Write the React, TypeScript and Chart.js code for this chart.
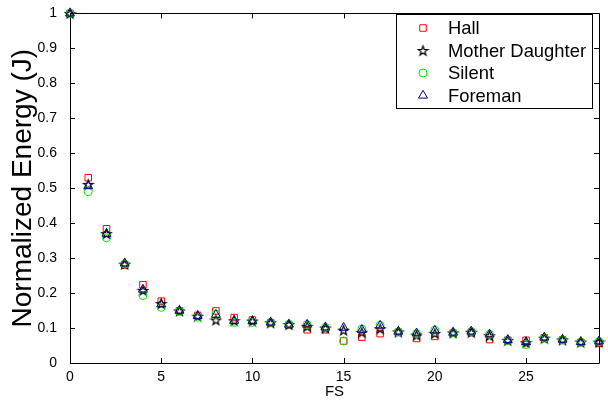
import { useEffect, useRef } from 'react';
import { Chart, registerables } from 'chart.js';

Chart.register(...registerables);

const fsValues = [0, 1, 2, 3, 4, 5, 6, 7, 8, 9, 10, 11, 12, 13, 14, 15, 16, 17, 18, 19, 20, 21, 22, 23, 24, 25, 26, 27, 28, 29];

const hallValues = [1, 0.53, 0.384, 0.28, 0.224, 0.177, 0.149, 0.136, 0.149, 0.13, 0.123, 0.115, 0.108, 0.095, 0.095, 0.063, 0.074, 0.084, 0.088, 0.07, 0.076, 0.085, 0.087, 0.067, 0.065, 0.065, 0.072, 0.066, 0.059, 0.056];
const motherDaughterValues = [1, 0.511, 0.37, 0.283, 0.208, 0.17, 0.149, 0.134, 0.123, 0.121, 0.12, 0.115, 0.11, 0.105, 0.1, 0.094, 0.088, 0.098, 0.089, 0.08, 0.085, 0.086, 0.088, 0.078, 0.065, 0.058, 0.071, 0.066, 0.06, 0.06];
const silentValues = [1, 0.49, 0.358, 0.283, 0.193, 0.159, 0.147, 0.131, 0.14, 0.116, 0.116, 0.116, 0.111, 0.11, 0.102, 0.063, 0.097, 0.108, 0.089, 0.084, 0.094, 0.087, 0.09, 0.082, 0.064, 0.053, 0.071, 0.066, 0.059, 0.061];
const foremanValues = [1, 0.506, 0.37, 0.285, 0.21, 0.168, 0.15, 0.135, 0.138, 0.121, 0.12, 0.116, 0.11, 0.11, 0.102, 0.101, 0.095, 0.107, 0.09, 0.085, 0.093, 0.087, 0.09, 0.082, 0.066, 0.06, 0.073, 0.067, 0.06, 0.062];

const seriesNames = ['Hall', 'Mother Daughter', 'Silent', 'Foreman'];
const seriesColors = ['#ff0000', '#000000', '#00ee00', '#000080'];

const xTicks = [0, 5, 10, 15, 20, 25];
const yTicks = [0, 0.1, 0.2, 0.3, 0.4, 0.5, 0.6, 0.7, 0.8, 0.9, 1];

const FONT = "'Liberation Sans', Arial, Helvetica, sans-serif";

function makePentagram(color: string): HTMLCanvasElement {
  const c = document.createElement('canvas');
  c.width = 13;
  c.height = 13;
  const ctx = c.getContext('2d')!;
  ctx.strokeStyle = color;
  ctx.lineWidth = 1.2;
  ctx.lineJoin = 'miter';
  ctx.beginPath();
  for (let i = 0; i < 10; i++) {
    const r = i % 2 === 0 ? 5 : 2;
    const a = -Math.PI / 2 + (i * Math.PI) / 5;
    const px = 6.5 + r * Math.cos(a);
    const py = 7 + r * Math.sin(a);
    if (i === 0) ctx.moveTo(px, py);
    else ctx.lineTo(px, py);
  }
  ctx.closePath();
  ctx.stroke();
  return c;
}

function drawMarker(ctx: CanvasRenderingContext2D, style: any, radius: number, x: number, y: number, color: string) {
  ctx.save();
  ctx.strokeStyle = color;
  ctx.lineWidth = 1;
  ctx.beginPath();
  if (style === 'rect') {
    const s = radius / Math.SQRT2;
    ctx.rect(x - s, y - s, 2 * s, 2 * s);
    ctx.stroke();
  } else if (style === 'circle') {
    ctx.arc(x, y, radius, 0, Math.PI * 2);
    ctx.stroke();
  } else if (style === 'triangle') {
    let rad = 0;
    ctx.moveTo(x + Math.sin(rad) * radius, y - Math.cos(rad) * radius);
    rad += (2 * Math.PI) / 3;
    ctx.lineTo(x + Math.sin(rad) * radius, y - Math.cos(rad) * radius);
    rad += (2 * Math.PI) / 3;
    ctx.lineTo(x + Math.sin(rad) * radius, y - Math.cos(rad) * radius);
    ctx.closePath();
    ctx.stroke();
  } else if (style instanceof HTMLCanvasElement) {
    ctx.drawImage(style, x - style.width / 2, y - style.height / 2);
  }
  ctx.restore();
}

const framePlugin = {
  id: 'matlabFrame',
  beforeDatasetsDraw(chart: any) {
    const { ctx, chartArea } = chart;
    const xs = chart.scales.x;
    const ys = chart.scales.y;
    const { left, right, top, bottom } = chartArea;
    ctx.save();
    ctx.strokeStyle = '#000';
    ctx.lineWidth = 1;
    ctx.beginPath();
    ctx.rect(Math.round(left) + 0.5, Math.round(top) + 0.5, Math.round(right - left), Math.round(bottom - top));
    ctx.stroke();
    const tl = 5;
    ctx.beginPath();
    xTicks.forEach((v) => {
      const px = Math.round(xs.getPixelForValue(v)) + 0.5;
      ctx.moveTo(px, bottom);
      ctx.lineTo(px, bottom - tl);
      ctx.moveTo(px, top);
      ctx.lineTo(px, top + tl);
    });
    yTicks.forEach((v) => {
      const py = Math.round(ys.getPixelForValue(v)) + 0.5;
      ctx.moveTo(left, py);
      ctx.lineTo(left + tl, py);
      ctx.moveTo(right, py);
      ctx.lineTo(right - tl, py);
    });
    ctx.stroke();
    ctx.restore();
  },
  afterDraw(chart: any) {
    const { ctx } = chart;
    const boxL = 396;
    const boxT = 14;
    const boxR = 592;
    const boxB = 108;
    ctx.save();
    ctx.fillStyle = '#fff';
    ctx.fillRect(boxL, boxT, boxR - boxL, boxB - boxT);
    ctx.strokeStyle = '#000';
    ctx.lineWidth = 1;
    ctx.strokeRect(boxL + 0.5, boxT + 0.5, boxR - boxL, boxB - boxT);
    ctx.font = `18.4px ${FONT}`;
    ctx.textBaseline = 'middle';
    ctx.textAlign = 'left';
    chart.data.datasets.forEach((ds: any, i: number) => {
      const y = 28 + i * 22.5;
      drawMarker(ctx, ds.pointStyle, ds.pointRadius, 423, y, ds.borderColor);
      ctx.fillStyle = '#000';
      ctx.fillText(ds.label, 448, y + 1);
    });
    ctx.restore();
  },
};

export default function App() {
  const canvasRef = useRef<HTMLCanvasElement | null>(null);

  useEffect(() => {
    document.body.style.margin = '0';
    const canvas = canvasRef.current;
    if (!canvas) return;
    const star = makePentagram(seriesColors[1]);
    const styles: any[] = ['rect', star, 'circle', 'triangle'];
    const radii = [4.6, 4.5, 4, 5.2];
    const allValues = [hallValues, motherDaughterValues, silentValues, foremanValues];
    const datasets = seriesNames.map((name, i) => ({
      label: name,
      data: fsValues.map((x, j) => ({ x, y: allValues[i][j] })),
      pointStyle: styles[i],
      pointRadius: radii[i],
      pointHoverRadius: radii[i],
      borderColor: seriesColors[i],
      backgroundColor: 'rgba(0,0,0,0)',
      pointBackgroundColor: 'rgba(0,0,0,0)',
      pointBorderWidth: 1,
      borderWidth: 1,
      showLine: false,
      clip: false as any,
      order: 4 - i,
    }));

    const chart = new Chart(canvas, {
      type: 'scatter',
      data: { datasets },
      options: {
        animation: false,
        responsive: false,
        devicePixelRatio: 1,
        layout: { padding: { left: 0, right: 9, top: 8, bottom: 0 } },
        plugins: {
          legend: { display: false },
          tooltip: { enabled: false },
        },
        scales: {
          x: {
            type: 'linear',
            min: 0,
            max: 29,
            grid: { display: false },
            border: { display: false },
            afterBuildTicks: (s: any) => {
              s.ticks = xTicks.map((v) => ({ value: v }));
            },
            afterFit: (s: any) => {
              s.height = 41;
            },
            ticks: {
              color: '#000',
              font: { family: FONT, size: 14 },
              padding: -2,
              maxRotation: 0,
              autoSkip: false,
              callback: (v: any) => `${v}`,
            },
            title: {
              display: true,
              text: 'FS',
              color: '#000',
              font: { family: FONT, size: 15 },
              padding: { top: 0, bottom: 3 },
            },
          },
          y: {
            type: 'linear',
            min: 0,
            max: 1,
            grid: { display: false },
            border: { display: false },
            afterBuildTicks: (s: any) => {
              s.ticks = yTicks.map((v) => ({ value: v }));
            },
            afterFit: (s: any) => {
              s.width = 70;
            },
            ticks: {
              color: '#000',
              font: { family: FONT, size: 14 },
              padding: 5,
              autoSkip: false,
              callback: (v: any) => `${v}`,
            },
            title: {
              display: true,
              text: 'Normalized Energy (J)',
              color: '#000',
              font: { family: FONT, size: 28 },
              padding: { top: 6, bottom: 0 },
            },
          },
        },
      },
      plugins: [framePlugin],
    });

    return () => {
      chart.destroy();
    };
  }, []);

  return (
    <div style={{ width: 608, height: 404 }}>
      <canvas ref={canvasRef} width={608} height={404} style={{ display: 'block', width: 608, height: 404 }} />
    </div>
  );
}
